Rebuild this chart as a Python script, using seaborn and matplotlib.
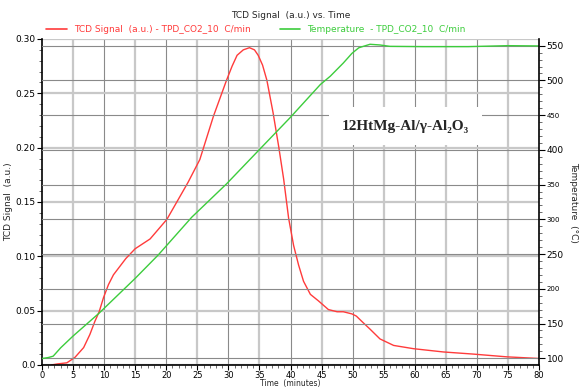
import numpy as np
import pandas as pd
import matplotlib
matplotlib.use("Agg")
import matplotlib.pyplot as plt
from matplotlib.lines import Line2D
from matplotlib.ticker import MultipleLocator
import seaborn as sns

# TCD signal
time_tcd = [1.5, 2.5, 4.0, 5.3, 6.7, 7.7, 8.5, 9.2, 9.9, 10.7, 11.5, 12.3, 13.5, 15.0,
            17.4, 20.1, 22.0, 23.5, 25.4, 27.6, 29.7, 30.6, 31.4, 32.4, 33.4, 34.2,
            34.8, 35.5, 36.2, 37.2, 38.1, 38.9, 39.7, 40.5, 41.3, 42.1, 43.2, 44.5,
            46.1, 47.5, 48.5, 49.9, 50.6, 51.5, 52.8, 54.4, 56.6, 59.8, 64.6, 69.5,
            74.8, 80.0]
tcd = [0.0, 0.001, 0.002, 0.007, 0.016, 0.028, 0.040, 0.049, 0.062, 0.074, 0.083,
       0.089, 0.098, 0.107, 0.116, 0.134, 0.153, 0.168, 0.189, 0.229, 0.262, 0.275,
       0.285, 0.290, 0.292, 0.290, 0.285, 0.276, 0.262, 0.232, 0.201, 0.171, 0.135,
       0.110, 0.092, 0.077, 0.065, 0.059, 0.051, 0.049, 0.049, 0.047, 0.045, 0.040,
       0.033, 0.024, 0.018, 0.015, 0.012, 0.010, 0.0075, 0.006]

# temperature program
time_temp = [0, 1, 1.8, 3, 5, 9.2, 15, 18.7, 24.1, 29.7, 34.8, 39.9, 44.8, 46.4, 48.5,
             49.9, 51.0, 52.8, 54.4, 56.0, 61.4, 68.6, 75.0, 80.0]
temp = [99.6, 101, 103, 115, 132, 165, 215, 248.6, 303, 351, 398.6, 446, 494, 506,
        525, 539, 547, 552, 551, 549, 548.6, 548.6, 550, 549.6]

left_ticks = [0.0, 0.05, 0.10, 0.15, 0.20, 0.25, 0.30]
left_labels = ["0.0", "0.05", "0.10", "0.15", "0.20", "0.25", "0.30"]
right_ticks = [100, 150, 200, 250, 300, 350, 400, 450, 500, 550]
small_right = [200, 300, 350, 450]

red = "#ff3b3b"
green = "#3ccc3c"

df_tcd = pd.DataFrame({"time": time_tcd, "signal": tcd})
df_temp = pd.DataFrame({"time": time_temp, "temp": temp})

sns.set_theme(style="white")
plt.rcParams["font.family"] = ["DejaVu Sans"]

fig = plt.figure(figsize=(5.81, 3.88), dpi=100)
ax = fig.add_axes([0.0723, 0.0593, 0.8554, 0.8402])
ax2 = ax.twinx()

sns.lineplot(data=df_tcd, x="time", y="signal", ax=ax, color=red, lw=1.0,
             sort=False, estimator=None)
sns.lineplot(data=df_temp, x="time", y="temp", ax=ax2, color=green, lw=1.0,
             sort=False, estimator=None)

ax.set_xlim(0, 80)
ax.set_ylim(0, 0.30)
ax2.set_ylim(90.3, 559.6)

# ticks and grids
ax.xaxis.set_major_locator(MultipleLocator(5))
ax.xaxis.set_minor_locator(MultipleLocator(1))
ax.yaxis.set_minor_locator(MultipleLocator(0.01))
ax2.yaxis.set_minor_locator(MultipleLocator(10))
ax.set_yticks(left_ticks)
ax.set_yticklabels(left_labels)
ax2.set_yticks(right_ticks)

ax.grid(True, axis="y", color="#c8c8c8", lw=1.6)
ax2.grid(True, axis="y", color="#8a8a8a", lw=0.8)
for t in range(5, 80, 5):
    if t % 10 == 0:
        ax.axvline(t, color="#8a8a8a", lw=0.8, zorder=0)
    else:
        ax.axvline(t, color="#c8c8c8", lw=1.6, zorder=0)

for a in (ax, ax2):
    for s in a.spines.values():
        s.set_visible(False)
ax.spines["left"].set_visible(True)
ax.spines["bottom"].set_visible(True)
ax2.spines["right"].set_visible(True)
for s in (ax.spines["left"], ax.spines["bottom"], ax2.spines["right"]):
    s.set_color("black")
    s.set_linewidth(1.2)

ax.tick_params(axis="both", which="major", direction="out", length=3.5, width=0.8,
               labelsize=6.5, colors="black", pad=1, left=True, bottom=True)
ax.tick_params(axis="x", which="major", labelsize=6)
ax.tick_params(axis="both", which="minor", direction="out", length=2.5, width=0.6,
               left=True, bottom=True, color="#555555")
ax2.tick_params(axis="y", which="major", direction="out", length=4, width=0.8,
                labelsize=6.5, colors="black", pad=1.5, right=True)
ax2.tick_params(axis="y", which="minor", direction="out", length=2.5, width=0.6,
                right=True, color="#555555")
for lab, val in zip(ax2.get_yticklabels(), right_ticks):
    if val in small_right:
        lab.set_fontsize(5)

ax.set_xlabel("Time  (minutes)", fontsize=5.5)
ax.xaxis.set_label_coords(0.5, -0.044)
ax.set_ylabel("TCD Signal  (a.u.)", fontsize=6.5, labelpad=2)
ax2.set_ylabel("Temperature  (°C)", fontsize=6.5, rotation=270, labelpad=10)

ax2.text(58.5, 434, "12HtMg-Al/γ-Al₂O₃", ha="center", va="center",
         fontsize=11, fontweight="bold", family=["Liberation Serif", "DejaVu Serif"],
         bbox=dict(facecolor="white", edgecolor="none", pad=9), zorder=10)

fig.text(0.5, 1 - 16 / 388, "TCD Signal  (a.u.) vs. Time", ha="center", va="center",
         fontsize=6.5)
handles = [Line2D([], [], color=red, lw=1.2), Line2D([], [], color=green, lw=1.2)]
leg = fig.legend(handles, ["TCD Signal  (a.u.) - TPD_CO2_10  C/min",
                           "Temperature  - TPD_CO2_10  C/min"],
                 loc="center left", bbox_to_anchor=(0.065, 1 - 30 / 388), ncol=2,
                 frameon=False, fontsize=6.5, handlelength=2.3, columnspacing=3.2,
                 handletextpad=0.8)
for txt, c in zip(leg.get_texts(), (red, green)):
    txt.set_color(c)

fig.savefig("out.png", dpi=100)
